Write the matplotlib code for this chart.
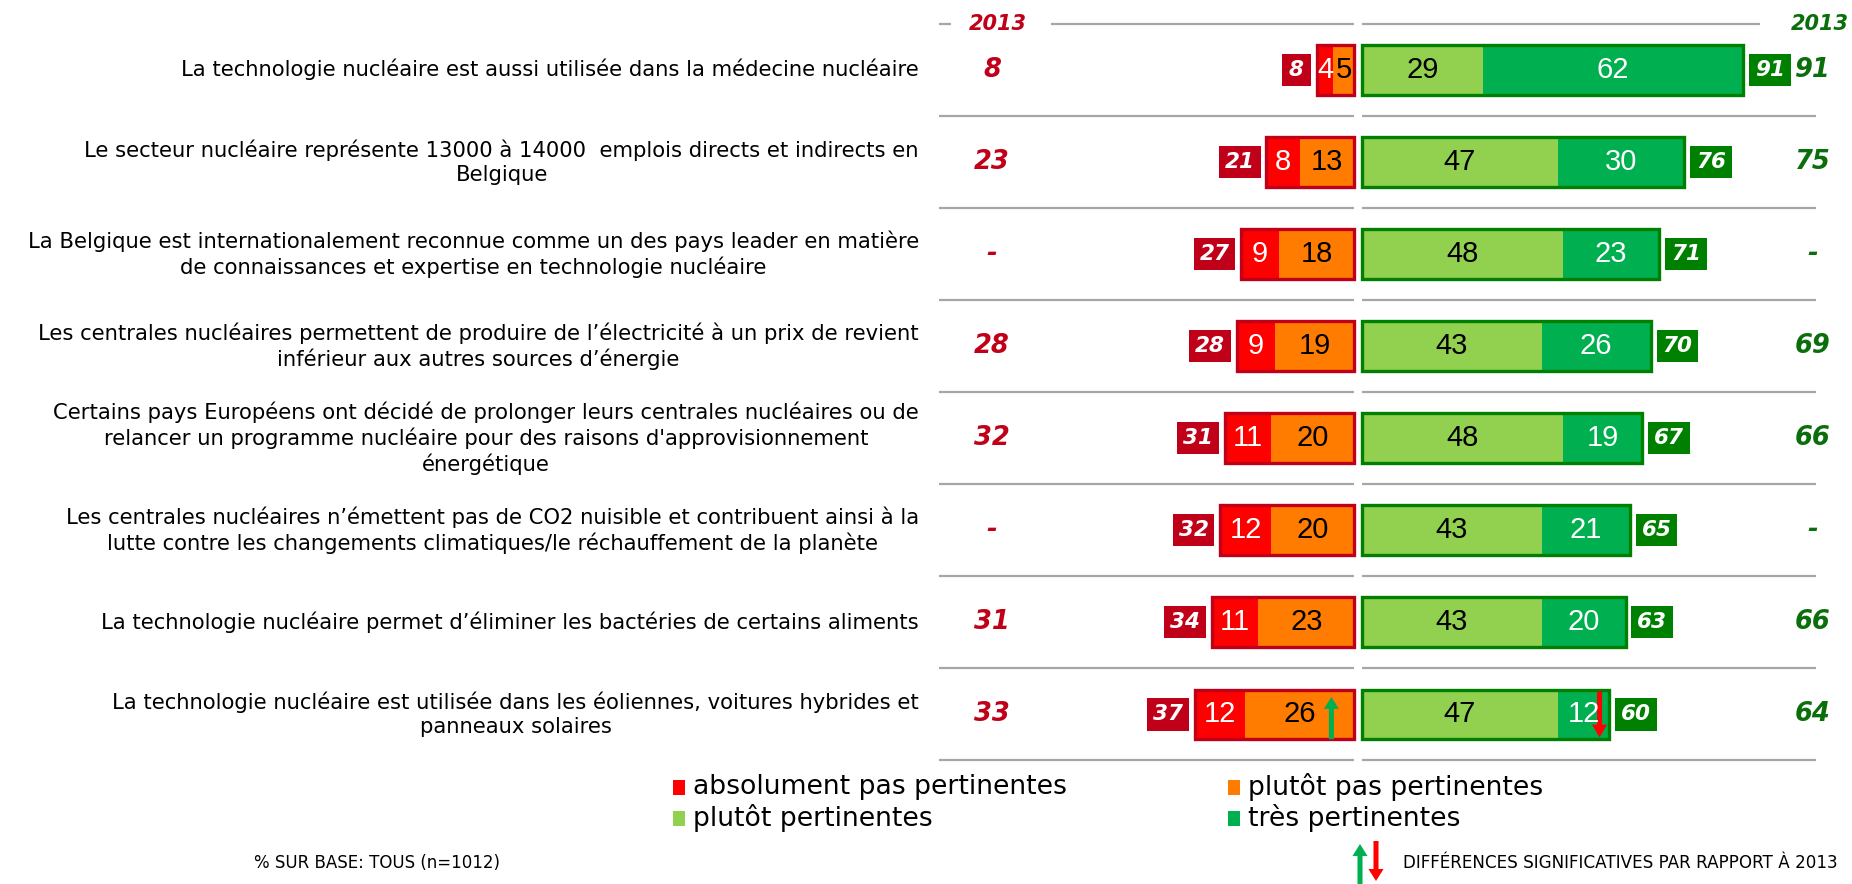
import matplotlib.pyplot as plt
from matplotlib.patches import Rectangle, FancyArrow

# ---- data ----
labels = [
    "La technologie nucléaire est aussi utilisée dans la médecine nucléaire",
    "Le secteur nucléaire représente 13000 à 14000  emplois directs et indirects en\nBelgique",
    "La Belgique est internationalement reconnue comme un des pays leader en matière\nde connaissances et expertise en technologie nucléaire",
    "Les centrales nucléaires permettent de produire de l’électricité à un prix de revient\ninférieur aux autres sources d’énergie",
    "Certains pays Européens ont décidé de prolonger leurs centrales nucléaires ou de\nrelancer un programme nucléaire pour des raisons d'approvisionnement\nénergétique",
    "Les centrales nucléaires n’émettent pas de CO2 nuisible et contribuent ainsi à la\nlutte contre les changements climatiques/le réchauffement de la planète",
    "La technologie nucléaire permet d’éliminer les bactéries de certains aliments",
    "La technologie nucléaire est utilisée dans les éoliennes, voitures hybrides et\npanneaux solaires",
]
prev_neg = ['8', '23', '-', '28', '32', '-', '31', '33']
prev_pos = ['91', '75', '-', '69', '66', '-', '66', '64']
abs_pas = [4, 8, 9, 9, 11, 12, 11, 12]
plutot_pas = [5, 13, 18, 19, 20, 20, 23, 26]
plutot = [29, 47, 48, 43, 48, 43, 43, 47]
tres = [62, 30, 23, 26, 19, 21, 20, 12]
neg_total = [8, 21, 27, 28, 31, 32, 34, 37]
pos_total = [91, 76, 71, 70, 67, 65, 63, 60]
sig_up = [7]     # rows with significant rise in "plutôt pas pertinentes"
sig_down = [7]   # rows with significant drop in "très pertinentes"

legend_names = ['absolument pas pertinentes', 'plutôt pas pertinentes',
                'plutôt pertinentes', 'très pertinentes']

RED = '#FF0000'
ORANGE = '#FF7C00'
LGREEN = '#92D050'
DGREEN = '#00B050'
BOX_RED = '#C00018'
BOX_GREEN = '#008000'
TXT_RED = '#C00018'
TXT_GREEN = '#0A6E0A'
GRID = '#A6A6A6'

W, H = 1852, 884
CX, PXU = 1358, 4.19      # centre pixel, pixels per percent
ROW0, PITCH = 69.7, 92.1  # first row centre, row pitch (pixels)


def X(px):
    return (px - CX) / PXU


def Y(py):
    return (py - ROW0) / PITCH


fig = plt.figure(figsize=(W / 100, H / 100), dpi=100)
ax = fig.add_axes([0, 0, 1, 1])
ax.set_xlim(X(0), X(W))
ax.set_ylim(Y(H), Y(0))
ax.axis('off')

bh = 0.54
g = 0.85
num_font = ['Liberation Sans', 'DejaVu Sans']
nfs = 21

# separators
for k in range(len(labels)):
    ax.hlines(k + 0.5, X(939), -g, color=GRID, lw=1.6)
    ax.hlines(k + 0.5, g, X(1816), color=GRID, lw=1.6)
ax.hlines(-0.5, X(939), X(951), color=GRID, lw=1.6)
ax.hlines(-0.5, X(1051), -g, color=GRID, lw=1.6)
ax.hlines(-0.5, g, X(1760), color=GRID, lw=1.6)
ax.text(X(998), -0.5, '2013', color=TXT_RED, fontsize=15, fontweight='bold',
        style='italic', ha='center', va='center')
ax.text(X(1820), -0.5, '2013', color=TXT_GREEN, fontsize=15, fontweight='bold',
        style='italic', ha='center', va='center')

for i in range(len(labels)):
    a, b, c, d = abs_pas[i], plutot_pas[i], plutot[i], tres[i]
    # negative side
    ax.barh(i, b, left=-g - b, height=bh, color=ORANGE, lw=0)
    ax.barh(i, a, left=-g - b - a, height=bh, color=RED, lw=0)
    ax.add_patch(Rectangle((-g - a - b, i - bh / 2), a + b, bh, fill=False,
                           ec=BOX_RED, lw=2.4))
    ax.text(-g - b - a / 2, i, str(a), color='white', fontsize=nfs,
            family=num_font, ha='center', va='center')
    ax.text(-g - b / 2, i, str(b), color='black', fontsize=nfs,
            family=num_font, ha='center', va='center')
    # positive side
    ax.barh(i, c, left=g, height=bh, color=LGREEN, lw=0)
    ax.barh(i, d, left=g + c, height=bh, color=DGREEN, lw=0)
    ax.add_patch(Rectangle((g, i - bh / 2), c + d, bh, fill=False,
                           ec=BOX_GREEN, lw=2.4))
    ax.text(g + c / 2, i, str(c), color='black', fontsize=nfs,
            family=num_font, ha='center', va='center')
    ax.text(g + c + d / 2, i, str(d), color='white', fontsize=nfs,
            family=num_font, ha='center', va='center')

    # total boxes
    nw = 7 if neg_total[i] < 10 else 10
    x0 = -g - a - b - 1.4 - nw
    ax.add_patch(Rectangle((x0, i - 0.175), nw, 0.35, color=BOX_RED, lw=0))
    ax.text(x0 + nw / 2, i, str(neg_total[i]), color='white', fontsize=15.5,
            fontweight='bold', style='italic', ha='center', va='center')
    pw = 7 if pos_total[i] < 10 else 10
    x1 = g + c + d + 1.4
    ax.add_patch(Rectangle((x1, i - 0.175), pw, 0.35, color=BOX_GREEN, lw=0))
    ax.text(x1 + pw / 2, i, str(pos_total[i]), color='white', fontsize=15.5,
            fontweight='bold', style='italic', ha='center', va='center')

    # 2013 values
    ax.text(X(992), i, prev_neg[i], color=TXT_RED, fontsize=18.5,
            fontweight='bold', style='italic', ha='center', va='center')
    ax.text(X(1813), i, prev_pos[i], color=TXT_GREEN, fontsize=18.5,
            fontweight='bold', style='italic', ha='center', va='center')

    # statement
    ax.text(X(919), i, labels[i], fontsize=15.2, ha='right', va='center',
            multialignment='center', linespacing=1.25)

# significance arrows
for i in sig_up:
    xa = -g - 5.5
    ax.add_patch(FancyArrow(xa, i + 0.27, 0, -0.46, width=1.2, head_width=3.6,
                            head_length=0.13, length_includes_head=True,
                            color=DGREEN, lw=0))
for i in sig_down:
    xa = g + plutot[i] + tres[i] - 2.2
    ax.add_patch(FancyArrow(xa, i - 0.25, 0, 0.5, width=1.2, head_width=3.6,
                            head_length=0.14, length_includes_head=True,
                            color=RED, lw=0))

# legend
leg_cols = [RED, ORANGE, LGREEN, DGREEN]
leg_pos = [(673, 787), (1228, 787), (673, 818), (1228, 818)]
for name, col, (px, py) in zip(legend_names, leg_cols, leg_pos):
    ax.add_patch(Rectangle((X(px), Y(py - 7)), 12 / PXU, 15 / PITCH,
                           color=col, lw=0))
    ax.text(X(px + 20), Y(py), name, fontsize=19.2,
            ha='left', va='center')

# footer
fig.text(254 / W, 1 - 863 / H, '% SUR BASE: TOUS (n=1012)', fontsize=12,
         ha='left', va='center')
fig.text(1403 / W, 1 - 863 / H, 'DIFFÉRENCES SIGNIFICATIVES PAR RAPPORT À 2013',
         fontsize=12.1, ha='left', va='center')
ax.add_patch(FancyArrow(X(1360), Y(884), 0, Y(844) - Y(884), width=1.2,
                        head_width=3.6, head_length=0.13,
                        length_includes_head=True, color=DGREEN, lw=0))
ax.add_patch(FancyArrow(X(1376), Y(841), 0, Y(881) - Y(841), width=1.2,
                        head_width=3.6, head_length=0.13,
                        length_includes_head=True, color=RED, lw=0))

fig.savefig('out.png', dpi=100)
